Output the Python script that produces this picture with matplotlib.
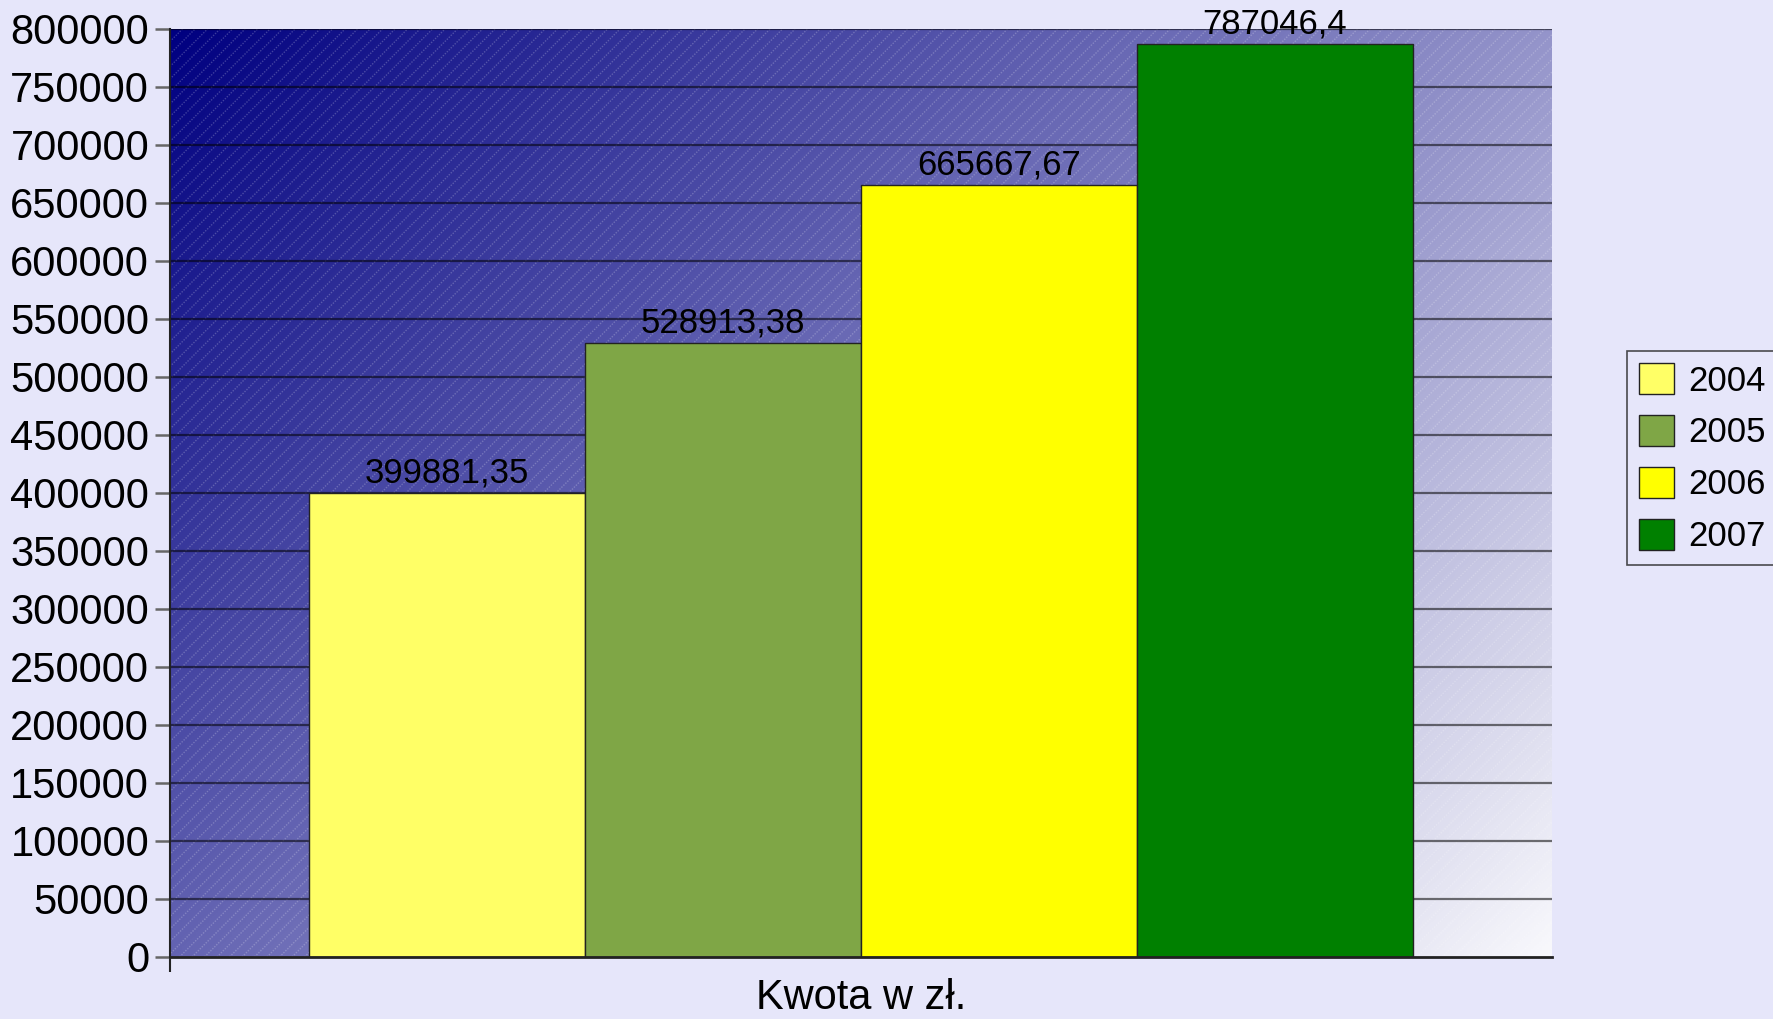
import numpy as np
import matplotlib
matplotlib.use("Agg")
import matplotlib.pyplot as plt
from matplotlib.colors import LinearSegmentedColormap
from matplotlib.patches import Rectangle
from matplotlib.collections import LineCollection

plt.rcParams["font.family"] = ["Liberation Sans", "DejaVu Sans"]

years = ["2004", "2005", "2006", "2007"]
values = [399881.35, 528913.38, 665667.67, 787046.4]
labels = ["399881,35", "528913,38", "665667,67", "787046,4"]
colors = ["#FFFF66", "#7FA646", "#FFFF00", "#008000"]

W, H = 1773, 1019
L, T, R, B = 170, 29, 1552, 957
pw, ph = R - L, B - T
fig = plt.figure(figsize=(W / 100, H / 100), dpi=100, facecolor="#E6E6FA")
ax = fig.add_axes([L / W, 1 - B / H, pw / W, ph / H])

x0, x1 = -0.504, 4.504
ax.set_xlim(x0, x1)

# diagonal gradient (45 deg in pixels): navy top-left -> near white bottom-right
gx, gy = np.meshgrid(np.linspace(0, pw, 500), np.linspace(0, ph, 400))
t = (gx + gy) / (pw + ph)
cmap = LinearSegmentedColormap.from_list("bg", ["#000080", "#F8F8FC"])
ax.imshow(t, cmap=cmap, extent=(x0, x1, 0, 800000), aspect="auto",
          origin="upper", zorder=0, interpolation="bilinear")
ax.set_ylim(0, 800000)

# fine light diagonal hatch lines
segs = []
for c in np.arange(-ph, pw, 12.5):
    segs.append([(c / pw, 0), ((c + ph) / pw, 1)])
lc = LineCollection(segs, transform=ax.transAxes, colors=[(1, 1, 1, 0.22)],
                    linewidths=1.0, linestyles=(0, (1, 1)), zorder=0.5)
ax.add_collection(lc)

for v in np.arange(50000, 800001, 50000):
    ax.axhline(v, color="black", lw=1.6, alpha=0.55, zorder=1)

ax.bar(np.arange(4), values, width=1.0, align="edge", color=colors,
       edgecolor="#222222", lw=1.0, zorder=2)
for i, (v, lab) in enumerate(zip(values, labels)):
    ax.text(i + 0.5, v + 3000, lab, ha="center", va="bottom", fontsize=25,
            color="black", zorder=3, clip_on=False)

ax.set_yticks(np.arange(0, 800001, 50000))
ax.set_yticklabels([str(v) for v in range(0, 800001, 50000)], fontsize=30)
ax.tick_params(axis="y", length=11, width=1.8, color="#666666", pad=4)
ax.set_xticks([x0])
ax.set_xticklabels([""])
ax.tick_params(axis="x", length=11, width=1.5, color="#222222")
fig.text(861 / W, 1 - 998 / H, "Kwota w zł.", fontsize=30, ha="center", va="center")

for s in ["top", "right"]:
    ax.spines[s].set_visible(False)
ax.spines["left"].set_color("#222222")
ax.spines["bottom"].set_color("#222222")
ax.spines["left"].set_linewidth(1.5)
ax.spines["bottom"].set_linewidth(2)

handles = [Rectangle((0, 0), 1, 1, facecolor=c, edgecolor="#222222") for c in colors]
leg = fig.legend(handles, years, loc="upper left", bbox_to_anchor=(1627 / W, 1 - 351 / H),
                 fontsize=25, frameon=True, fancybox=False, edgecolor="#222222",
                 facecolor="#E6E6FA", handlelength=1.0, handleheight=1.0,
                 labelspacing=0.5, borderpad=0.35, handletextpad=0.4, borderaxespad=0)
leg.get_frame().set_linewidth(1.2)

fig.savefig("out.png", dpi=100, facecolor=fig.get_facecolor())
